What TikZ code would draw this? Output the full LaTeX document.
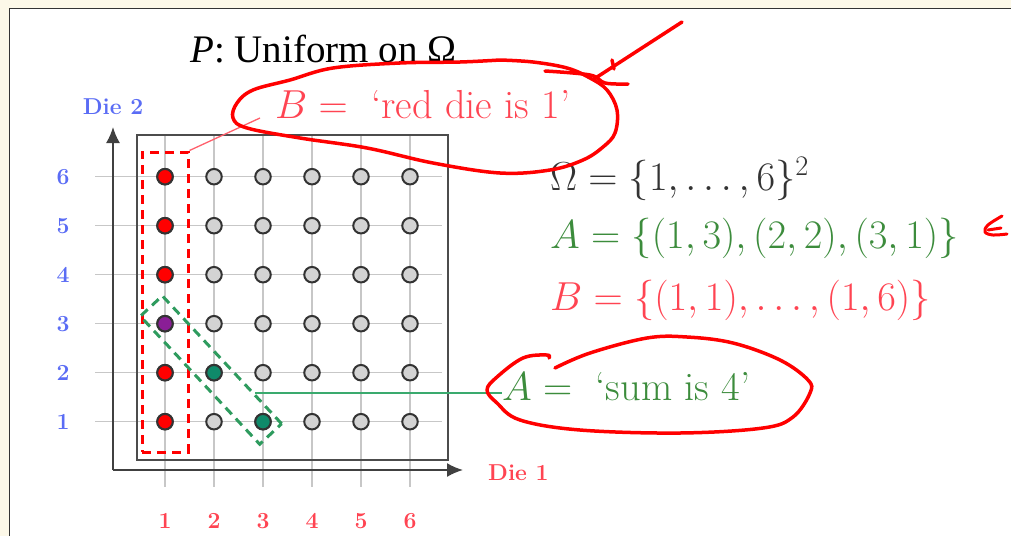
\RequirePackage{fix-cm}
\documentclass[tikz,border=0pt]{standalone}
\usepackage{fontspec}
\newfontfamily\timesfont{Liberation Serif}
\usetikzlibrary{arrows.meta,calc}

\definecolor{cream}{HTML}{FCF8E8}
\definecolor{dieblue}{HTML}{5A6CF5}
\definecolor{diered}{HTML}{FF4452}
\definecolor{setgreen}{HTML}{3C8C3C}
\definecolor{linegreen}{HTML}{3AAA6E}
\definecolor{boxgreen}{HTML}{2E9B5E}
\definecolor{dotteal}{HTML}{0F8A6A}
\definecolor{dotpurple}{HTML}{8A1E96}
\definecolor{dotgray}{HTML}{D3D3D3}
\definecolor{ink}{HTML}{FF0000}

\begin{document}
\begin{tikzpicture}[x=1pt, y=-1pt, every node/.style={inner sep=0pt},
    dot/.style={circle, draw=black!80, line width=2pt, minimum size=15.5pt, fill=dotgray},
    gridline/.style={black!22, line width=1.4pt},
    big/.style={font=\fontsize{40.5}{48}\selectfont},
    tick/.style={font=\fontsize{23}{28}\selectfont\bfseries},
    inkline/.style={ink, line width=3.5pt, line cap=round, line join=round},
    >={Latex[length=16pt,width=14pt]}]
  \useasboundingbox (0,0) rectangle (1011,536);
  % page frame
  \fill[cream] (0,0) rectangle (1011,536);
  \fill[white] (9.5,8.5) rectangle (1011,536);
  \draw[black!80, line width=1.5pt] (9.5,536) -- (9.5,8.5) -- (1011,8.5);

  % grid and dots
  \foreach \k in {1,...,6} {
    \draw[gridline] ({116+49*\k},135) -- ({116+49*\k},487);
    \draw[gridline] (95,{470.7-49*\k}) -- (442,{470.7-49*\k});
  }
  \draw[black!70, line width=1.8pt] (137,135) rectangle (448,460);
  \coordinate (O) at (113,470);
  \coordinate (ytip) at (113,127);
  \coordinate (xtip) at (463,470);
  \draw[->, black!75, line width=1.8pt] (O) -- (ytip);
  \draw[->, black!75, line width=1.8pt] (O) -- (xtip);
  \foreach \i in {1,...,6}
    \foreach \j in {1,...,6}
      \node[dot] (d\i\j) at ({116+49*\i},{470.7-49*\j}) {};
  \foreach \j in {1,2,4,5,6}
    \node[dot, fill=red] at (d1\j) {};
  \node[dot, fill=dotpurple] at (d13) {};
  \node[dot, fill=dotteal] at (d22) {};
  \node[dot, fill=dotteal] at (d31) {};

  % axis labels
  \node[tick, dieblue] (die2) at (113,107) {Die 2};
  \node[tick, diered, anchor=base west] (die1) at (488,480) {Die 1};
  \foreach \k in {1,...,6} {
    \node[tick, diered, anchor=base] (xl\k) at ({116+49*\k},528) {\k};
    \node[tick, dieblue] (yl\k) at (63,{470.7-49*\k}) {\k};
  }

  % events
  \node[draw=red, dash pattern=on 9pt off 6pt, line width=3pt,
        minimum width=46pt, minimum height=300pt] (Bbox) at (165,302) {};
  \node[draw=boxgreen, dash pattern=on 9pt off 6pt, line width=3pt,
        minimum width=175pt, minimum height=30pt, rotate=-47] (Abox) at (211,370) {};

  % texts
  \node[anchor=base west, font=\timesfont\fontsize{39}{46}\selectfont] (title) at (190,62)
    {{\itshape P}: Uniform on Ω};
  \node[big, diered, anchor=base west] (Blabel) at (275,118) {$B = {}$ `red die is 1'};
  \node[big, black!80, anchor=base west] (omega) at (550,190) {$\Omega = \{1,\dots,6\}^2$};
  \node[big, setgreen, anchor=base west] (Aset) at (550,248) {$A = \{(1,3),(2,2),(3,1)\}$};
  \node[big, diered, anchor=base west] (Bset) at (550,310) {$B = \{(1,1),\dots,(1,6)\}$};
  \node[big, setgreen, anchor=base west] (Asum) at (502,400) {$A = {}$ `sum is 4'};

  % connectors
  \draw[diered!85, line width=1.3pt] (Bbox.north east) -- ([xshift=-15pt]Blabel.base west);
  \coordinate (Aend) at ($(Abox.north)!0.53!(Abox.north east)$);
  \draw[linegreen, line width=1.8pt] (Aend) -- (Aend -| Asum.west);

  % hand-drawn marks
  \draw[inkline] plot[smooth, tension=0.6] coordinates {(500,60) (460,62) (400,63) (333,68)
    (290,80) (253,90) (237,103) (233,118) (247,128) (300,138) (367,148) (433,163) (500,173)
    (550,170) (583,160) (603,147) (615,133) (617,110) (607,90) (590,78) (567,68) (533,62) (500,60)};
  \draw[inkline] plot[smooth, tension=0.6] coordinates {(545,71) (590,75) (605,83) (628,84)};
  \draw[inkline] (682,22) -- (594,79);
  \draw[inkline] (612,60) -- (614,69);
  \draw[inkline, line width=3pt] plot[smooth, tension=0.6] coordinates {(1002,216) (988,225)
    (985,232) (993,235) (1007,234)};
  \draw[inkline, line width=3pt] (988,230) -- (1001,228);
  \draw[inkline] plot[smooth, tension=0.6] coordinates {(555,368) (590,353) (647,338) (687,337)
    (733,343) (780,360) (808,380) (810,393) (793,417) (763,428) (680,433) (580,430) (520,420)
    (497,403) (487,390) (497,377) (523,358) (547,355) (549,358)};
\end{tikzpicture}
\end{document}
